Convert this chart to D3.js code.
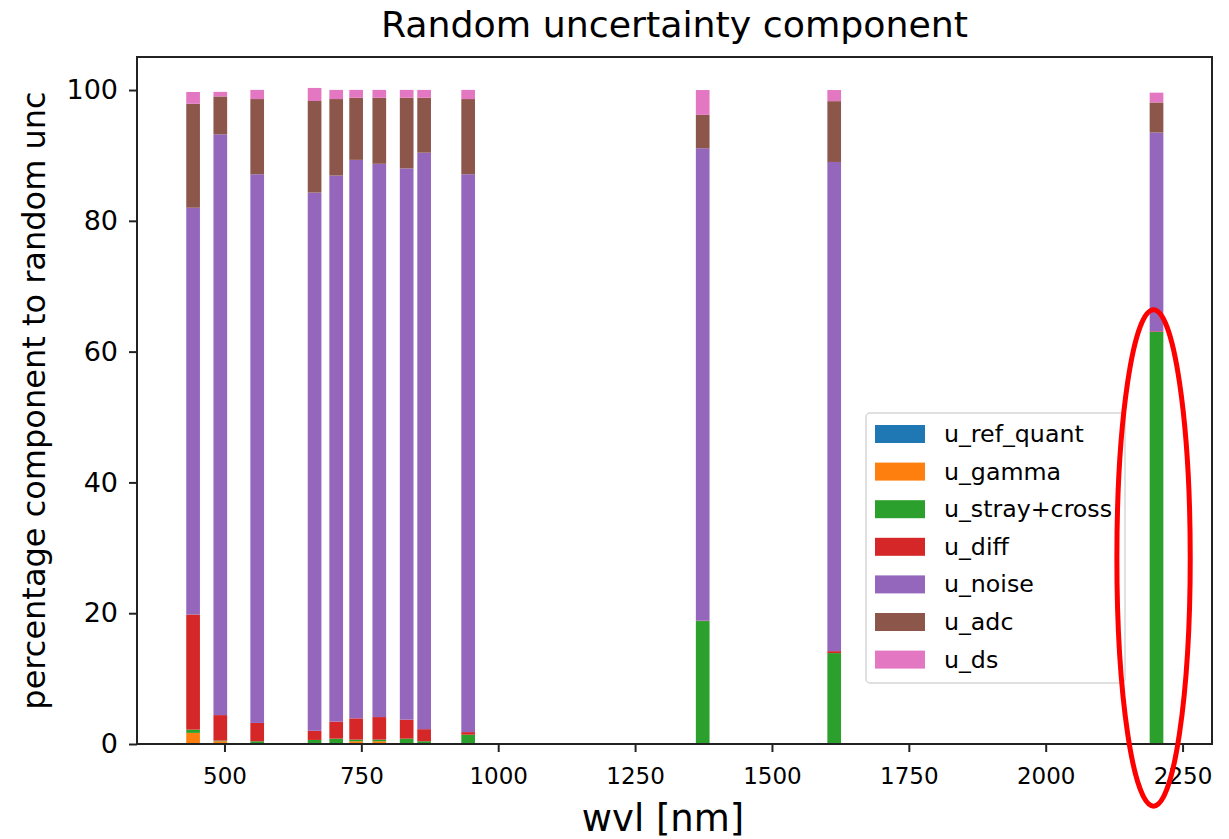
<!DOCTYPE html>
<html>
<head>
<meta charset="utf-8">
<script src="https://cdn.jsdelivr.net/npm/d3@7"></script>
<style>
  body { margin: 0; background: #fff; }
  svg { display: block; font-family: "DejaVu Sans", sans-serif; }
</style>
</head>
<body>
<div id="chart"></div>
<script>
// wavelengths of the bands [nm]
const wvl = [442.7, 492.4, 559.8, 664.6, 704.1, 740.5, 782.8, 832.8, 864.7, 945.1, 1373.5, 1613.7, 2202.4];

// percentage of each component, stacked in this order
const uRefQuant = [0.05, 0.02, 0.02, 0.02, 0.02, 0.02, 0.02, 0.02, 0.02, 0.02, 0.0, 0.0, 0.0];
const uGamma    = [1.65, 0.4, 0.1, 0.1, 0.1, 0.4, 0.4, 0.1, 0.1, 0.05, 0.0, 0.0, 0.0];
const uStray    = [0.5, 0.1, 0.3, 0.5, 0.7, 0.25, 0.25, 0.7, 0.3, 1.35, 18.8, 13.9, 63.0];
const uDiff     = [17.6, 3.9, 2.8, 1.4, 2.6, 3.25, 3.45, 2.9, 1.85, 0.4, 0.05, 0.3, 0.1];
const uNoise    = [62.2, 88.8, 83.9, 82.3, 83.5, 85.4, 84.6, 84.3, 88.15, 85.3, 72.25, 74.8, 30.4];
const uAdc      = [15.9, 5.8, 11.5, 14.0, 11.7, 9.5, 10.1, 10.8, 8.4, 11.5, 5.1, 9.3, 4.6];
const uDs       = [1.8, 0.7, 1.4, 2.0, 1.4, 1.2, 1.2, 1.2, 1.2, 1.4, 3.8, 1.7, 1.5];

const seriesNames = ["u_ref_quant", "u_gamma", "u_stray+cross", "u_diff", "u_noise", "u_adc", "u_ds"];
const seriesValues = [uRefQuant, uGamma, uStray, uDiff, uNoise, uAdc, uDs];
const xTicks = [500, 750, 1000, 1250, 1500, 1750, 2000, 2250];
const yTicks = [0, 20, 40, 60, 80, 100];

const colors = ["#1f77b4", "#ff7f0e", "#2ca02c", "#d62728", "#9467bd", "#8c564b", "#e377c2"];
const barWidth = 25; // nm

const width = 1229, height = 839;
const plotLeft = 137, plotRight = 1212, plotTop = 57, plotBottom = 744;

const svg = d3.select("#chart").append("svg")
    .attr("width", width)
    .attr("height", height);

const x = d3.scaleLinear()
    .domain([340.25, 2303.75])
    .range([plotLeft, plotRight]);

const y = d3.scaleLinear()
    .domain([0, 105.05])
    .range([plotBottom, plotTop]);

// table for the stack
const table = wvl.map((w, i) => {
    const row = { wvl: w };
    seriesNames.forEach((n, k) => { row[n] = seriesValues[k][i]; });
    return row;
});

const stacked = d3.stack().keys(seriesNames)(table);

svg.append("g")
    .selectAll("g")
    .data(stacked)
    .enter().append("g")
    .attr("fill", (d, i) => colors[i])
    .selectAll("rect")
    .data(d => d)
    .enter().append("rect")
    .attr("x", d => x(d.data.wvl - barWidth / 2))
    .attr("width", d => x(d.data.wvl + barWidth / 2) - x(d.data.wvl - barWidth / 2))
    .attr("y", d => y(d[1]))
    .attr("height", d => y(d[0]) - y(d[1]));

// axes
const xAxis = d3.axisBottom(x)
    .tickValues(xTicks)
    .tickSize(8)
    .tickPadding(16)
    .tickFormat(d3.format("d"));

const yAxis = d3.axisLeft(y)
    .tickValues(yTicks)
    .tickSize(8)
    .tickPadding(11)
    .tickFormat(d3.format("d"));

const gx = svg.append("g")
    .attr("transform", "translate(0," + plotBottom + ")")
    .call(xAxis);

const gy = svg.append("g")
    .attr("transform", "translate(" + plotLeft + ",0)")
    .call(yAxis);

[gx, gy].forEach(g => {
    g.select(".domain").remove();
    g.selectAll(".tick line").attr("stroke", "#222").attr("stroke-width", 2);
    g.selectAll(".tick text").attr("fill", "#000")
        .attr("font-family", "DejaVu Sans");
});
gx.selectAll(".tick text").attr("font-size", 23);
gy.selectAll(".tick text").attr("font-size", 27);

// frame
svg.append("rect")
    .attr("x", plotLeft)
    .attr("y", plotTop)
    .attr("width", plotRight - plotLeft)
    .attr("height", plotBottom - plotTop)
    .attr("fill", "none")
    .attr("stroke", "#222")
    .attr("stroke-width", 2);

// title and labels
svg.append("text")
    .attr("x", (plotLeft + plotRight) / 2)
    .attr("y", 37)
    .attr("text-anchor", "middle")
    .attr("font-size", 36.3)
    .text("Random uncertainty component");

svg.append("text")
    .attr("x", 663)
    .attr("y", 831)
    .attr("text-anchor", "middle")
    .attr("font-size", 37)
    .text("wvl [nm]");

svg.append("text")
    .attr("transform", "translate(45," + (plotTop + plotBottom) / 2 + ") rotate(-90)")
    .attr("text-anchor", "middle")
    .attr("font-size", 32)
    .text("percentage component to random unc");

// legend
const legend = svg.append("g").attr("transform", "translate(866,413)");

legend.append("rect")
    .attr("width", 259)
    .attr("height", 270)
    .attr("rx", 4)
    .attr("fill", "#fff")
    .attr("fill-opacity", 0.8)
    .attr("stroke", "#d6d6d6")
    .attr("stroke-width", 1.5);

const items = legend.selectAll(".item")
    .data(seriesNames)
    .enter().append("g")
    .attr("class", "item")
    .attr("transform", (d, i) => "translate(0," + (21 + i * 37.6) + ")");

items.append("rect")
    .attr("x", 9)
    .attr("y", -9)
    .attr("width", 50)
    .attr("height", 18)
    .attr("fill", (d, i) => colors[i]);

items.append("text")
    .attr("x", 78)
    .attr("y", 8)
    .attr("font-size", 23.7)
    .text(d => d);

// red ellipse highlighting the last band
const yTop = y(66.4), yBot = y(-9.5);
svg.append("ellipse")
    .attr("cx", x(2197))
    .attr("cy", (yTop + yBot) / 2)
    .attr("rx", x(2197) - x(2130))
    .attr("ry", (yBot - yTop) / 2)
    .attr("fill", "none")
    .attr("stroke", "#ff0000")
    .attr("stroke-width", 5);
</script>
</body>
</html>
